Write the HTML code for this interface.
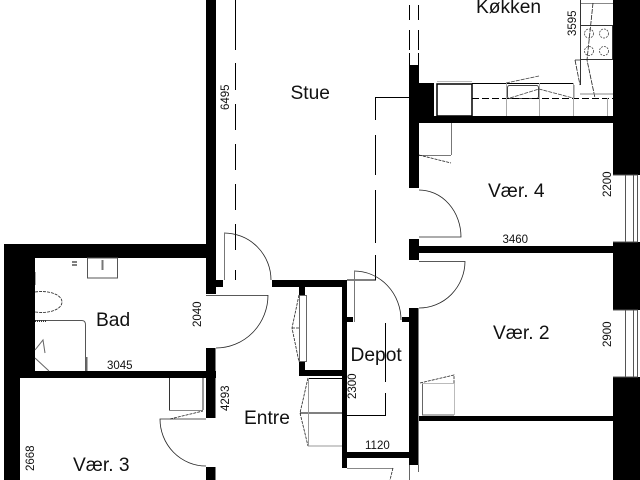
<!DOCTYPE html>
<html><head><meta charset="utf-8"><style>
html,body{margin:0;padding:0;background:#fff;width:640px;height:480px;overflow:hidden}
svg{display:block}
text{font-family:"Liberation Sans",sans-serif;fill:#111}
.r{font-size:19.2px}.d{font-size:11.5px}
</style></head><body>
<svg width="640" height="480" viewBox="0 0 640 480" xmlns="http://www.w3.org/2000/svg">
<rect width="640" height="480" fill="#fff"/>
<!-- walls -->
<g fill="#000">
<rect x="206" y="0" width="10" height="294"/>
<rect x="4" y="244" width="212" height="14"/>
<rect x="4" y="244" width="31" height="134"/>
<rect x="4" y="371" width="212" height="7"/>
<rect x="4" y="378" width="16" height="102"/>
<rect x="206" y="348" width="9.500" height="70"/>
<rect x="206" y="467" width="9.500" height="13"/>
<rect x="216" y="280" width="7" height="7"/>
<rect x="272" y="280" width="75" height="7"/>
<rect x="299" y="287" width="6" height="8"/>
<rect x="299" y="362" width="6" height="14"/>
<rect x="299" y="370" width="48" height="6"/>
<rect x="342" y="280" width="5" height="188"/>
<rect x="347" y="317" width="6" height="5"/>
<rect x="347" y="452" width="71" height="6"/>
<rect x="409" y="308" width="9.500" height="157"/>
<rect x="402" y="317" width="7" height="5"/>
<rect x="409" y="239" width="10" height="21"/>
<rect x="409" y="246" width="204" height="7"/>
<rect x="419" y="416" width="194" height="5"/>
<rect x="409" y="65" width="10" height="123"/>
<rect x="409" y="83" width="25" height="40"/>
<rect x="409" y="116" width="204" height="7"/>
<rect x="613" y="0" width="27" height="175"/>
<rect x="613" y="242" width="27" height="68"/>
<rect x="613" y="377" width="27" height="103"/>
</g>
<!-- windows -->
<g fill="none" stroke="#555" stroke-width="1">
<path d="M613 175H637.500V242H613M625.500 175V242M633.500 175V242"/>
<path d="M613 310H637.500V377H613M625.500 310V377M633.500 310V377"/>
</g>
<!-- dashed axis lines -->
<g fill="none" stroke="#000" stroke-width="1">
<path d="M235.500 0V50M235.500 63V90M235.500 104V130M235.500 144V170M235.500 184V210M235.500 224V250M235.500 270V280"/>
<path d="M409.500 5V20M409.500 30V50M409.500 53V65M418.500 5V20M418.500 30V50M418.500 53V65"/>
<path d="M409 97.500H375.500V120M375.500 135V175M375.500 190V243M375.500 255V280H347"/>
<path d="M385.500 323V382M385.500 393V415.500H347"/>
</g>
<!-- doors -->
<g fill="none" stroke="#222" stroke-width="0.800">
<path d="M224 233A47 47 0 0 1 271 280"/>
<path d="M268 295A52 53 0 0 1 216 348"/>
<path d="M354 271A47 49 0 0 1 401 320"/>
<path d="M419 190A42 47 0 0 1 461 237H419"/>
<path d="M419 261.500H465A46 47 0 0 1 419 308"/>
<path d="M206 419H160A46 47 0 0 0 206 466"/>
<path d="M206 295.500H268"/>
</g>
<path d="M224.500 280V233M354.500 322V271" fill="none" stroke="#777" stroke-width="1"/>
<!-- closets -->
<g fill="none">
<rect x="299.500" y="295.500" width="7" height="66" stroke="#666"/>
<path d="M299 295L292 328L299 362M292 328H299" stroke="#222" stroke-width="0.800" stroke-dasharray="3 1"/>
<path d="M308 378.500H342" stroke="#000" stroke-width="1"/>
<path d="M308 378L300 413L308 446" stroke="#222" stroke-width="0.800" stroke-dasharray="3 1"/>
<path d="M300 413H342" stroke="#000"/>
<path d="M308 446H342M308.500 378V446" stroke="#999"/>
<path d="M169.500 378V410M203 378V410" stroke="#333"/>
<path d="M169 410.500H203" stroke="#888"/>
<path d="M170 419L203 411" stroke="#222" stroke-width="0.800" stroke-dasharray="3 1"/>
<path d="M451.500 123V155M419 155.500H451" stroke="#777"/>
<path d="M419 155L451 163" stroke="#222" stroke-width="0.800" stroke-dasharray="3 1"/>
<path d="M422.500 383V415H454" stroke="#666"/>
<path d="M422 383.500H454.500V415" stroke="#bbb"/>
<path d="M420 383L454 375V383" stroke="#222" stroke-width="0.800" stroke-dasharray="3 1"/>
</g>
<!-- kitchen -->
<g fill="none">
<rect x="437" y="84" width="35" height="32" stroke="#000" stroke-width="1.500"/>
<path d="M472 83.500H574" stroke="#000" stroke-width="1"/>
<path d="M437 81.500H472" stroke="#bbb"/>
<rect x="507.500" y="85.500" width="31" height="13" rx="2" stroke="#444"/>
<path d="M472 98.500H613" stroke="#000" stroke-dasharray="7 3"/>
<path d="M506.500 83V116M539.500 83V116M573.500 83V116M607.500 98V116" stroke="#aaa"/>
<path d="M506 83L539 76M510 98L539 89L573 98" stroke="#444" stroke-width="0.800" stroke-dasharray="4 1"/>
<path d="M580.500 0V25M580.500 59V85" stroke="#333"/>
<path d="M581 3.500H613" stroke="#888"/>
<rect x="580.500" y="25.500" width="32" height="34" stroke="#333" stroke-width="1"/>
<path d="M593 3L587 60L595 98M575 60H580M575 60L580 85" stroke="#222" stroke-width="0.800" stroke-dasharray="5 1"/>
<g stroke="#444" stroke-width="0.800" stroke-dasharray="2 1">
<circle cx="589" cy="33.500" r="4.500"/><circle cx="604" cy="33.500" r="4.500"/>
<circle cx="589" cy="51" r="4.500"/><circle cx="604" cy="51" r="4.500"/>
</g>
<path d="M574 85V98M580 94H613" stroke="#888"/>
</g>
<!-- bath -->
<g fill="none">
<rect x="87.500" y="258" width="30" height="20" stroke="#555" stroke-width="1"/>
<path d="M102.500 260V270" stroke="#777" stroke-width="2"/>
<path d="M72 262H77M72 265H77" stroke="#555" stroke-width="1.500"/>
<path d="M35 292C50 290 62 295 62 302C62 309 50 314 35 312" stroke="#222" stroke-width="0.800" stroke-dasharray="3 1"/>
<path d="M35.500 272V285" stroke="#aaa"/>
<path d="M35 320.500H82Q85.500 320.500 85.500 325V371" stroke="#555"/>
<path d="M86.500 357V371" stroke="#666" stroke-width="2"/>
<path d="M35 350L43 340L45 353M35 358L49 371" stroke="#666"/>
<path d="M35 321H46" stroke="#333" stroke-dasharray="1 1" stroke-width="2"/>
</g>
<!-- bottom -->
<g fill="none">
<path d="M347 468.500H393" stroke="#888"/>
<path d="M393 468L390 480" stroke="#222" stroke-dasharray="3 1" stroke-width="0.800"/>
<path d="M409.500 465V480M418.500 465V472" stroke="#666"/>
</g>
<!-- labels -->
<text class="r" x="476" y="13">Køkken</text>
<text class="r" x="290.500" y="99">Stue</text>
<text class="r" x="488" y="197">Vær. 4</text>
<text class="r" x="493" y="339">Vær. 2</text>
<text class="r" x="96" y="326">Bad</text>
<text class="r" x="350.500" y="361">Depot</text>
<text class="r" x="244" y="424">Entre</text>
<text class="r" x="73" y="471">Vær. 3</text>
<text class="d" x="107" y="369">3045</text>
<text class="d" x="365" y="449">1120</text>
<text class="d" x="502.500" y="243">3460</text>
<text class="d" transform="translate(576,36) rotate(-90)">3595</text>
<text class="d" transform="translate(229,110) rotate(-90)">6495</text>
<text class="d" transform="translate(201,327) rotate(-90)">2040</text>
<text class="d" transform="translate(229,411) rotate(-90)">4293</text>
<text class="d" transform="translate(356,399) rotate(-90)">2300</text>
<text class="d" transform="translate(611,197) rotate(-90)">2200</text>
<text class="d" transform="translate(611,347) rotate(-90)">2900</text>
<text class="d" transform="translate(34,471) rotate(-90)">2668</text>
</svg>
</body></html>
